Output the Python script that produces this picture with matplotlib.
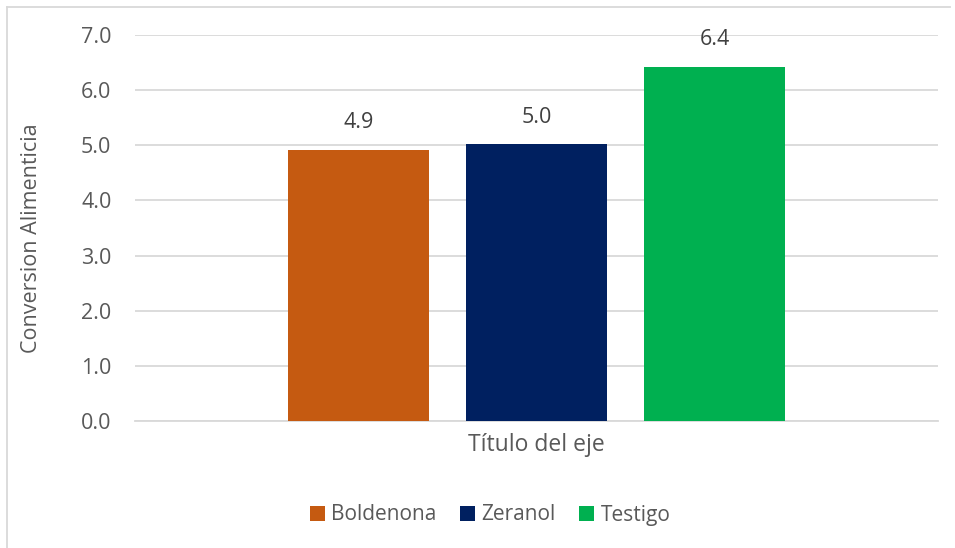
import matplotlib.pyplot as plt
from matplotlib.lines import Line2D

plt.rcParams['font.family'] = ['Open Sans', 'DejaVu Sans']

# Datos
series = ['Boldenona', 'Zeranol', 'Testigo']
valores = [4.92, 5.02, 6.42]
etiquetas = ['4.9', '5.0', '6.4']
colores = ['#C55A11', '#002060', '#00B050']
yticks = [0, 1, 2, 3, 4, 5, 6, 7]

fig = plt.figure(figsize=(9.55, 5.48), dpi=100)
ax = fig.add_axes([135 / 955, 1 - 421 / 548, (938 - 135) / 955, (421 - 35) / 548])

ancho = 141 / 803
paso = 178 / 803
handles = []
for i, (nombre, v, et, c) in enumerate(zip(series, valores, etiquetas, colores)):
    x = (i - 1) * paso
    b = ax.bar(x, v, width=ancho, color=c, label=nombre, zorder=3)
    handles.append(b)
    ax.annotate(et, (x, v), xytext=(0, 12), textcoords='offset points',
                ha='center', va='bottom', fontsize=15.5, color='#404040')

ax.set_xlim(-0.5, 0.5)
ax.set_ylim(0, 7)
ax.set_yticks(yticks)
ax.set_yticklabels([f'{t:.1f}' for t in yticks])
ax.set_xticks([])
ax.yaxis.grid(True, color='#D9D9D9', linewidth=1.3, zorder=0)
for s in ['top', 'right', 'left']:
    ax.spines[s].set_visible(False)
ax.spines['bottom'].set_color('#D9D9D9')
ax.spines['bottom'].set_linewidth(1.3)
ax.tick_params(axis='y', length=0, pad=17, labelsize=15.5, labelcolor='#595959')

ax.set_xlabel('Título del eje', fontsize=16.5, color='#595959')
ax.set_ylabel('Conversion Alimenticia', fontsize=15.5, color='#595959')
ax.xaxis.set_label_coords(0.5, -0.03)
ax.yaxis.set_label_coords(-0.116, 0.474)

fig.legend(handles=handles, loc='center', bbox_to_anchor=(490 / 955, 1 - 515 / 548),
           ncol=3, frameon=False, fontsize=15, labelcolor='#595959',
           handlelength=0.75, handleheight=0.75, handletextpad=0.3, columnspacing=1.1)

# borde del gráfico
fig.add_artist(Line2D([7 / 955, 7 / 955], [0, 1 - 7 / 548], color='#D9D9D9', lw=1.3))
fig.add_artist(Line2D([7 / 955, 950 / 955], [1 - 7 / 548, 1 - 7 / 548], color='#D9D9D9', lw=1.3))

fig.savefig('out.png', dpi=100)
